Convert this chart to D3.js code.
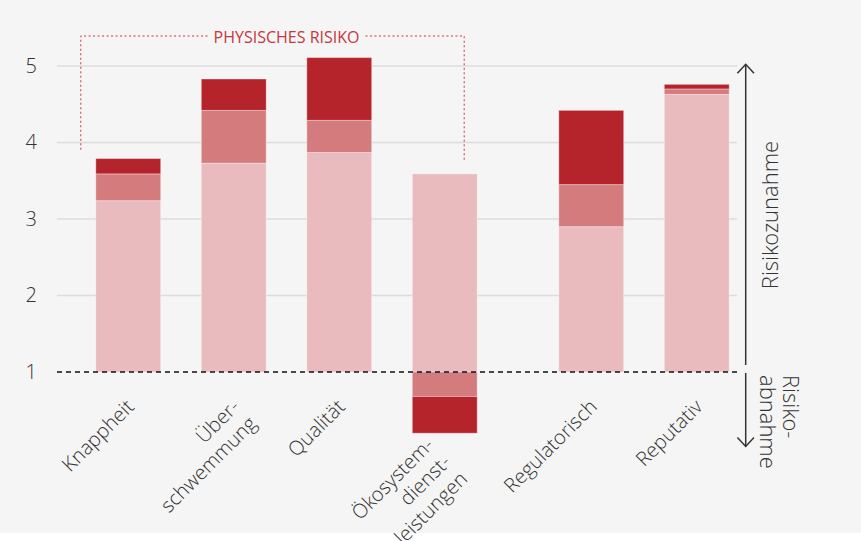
<!DOCTYPE html>
<html><head><meta charset="utf-8">
<script src="https://cdn.jsdelivr.net/npm/d3@7"></script>
<style>
html,body{margin:0;padding:0;background:#fff;}
svg text{font-family:"Open Sans Light","Open Sans",sans-serif;}
</style></head>
<body><svg id="chart" width="861" height="541"></svg>
<script>
// Water risk categories (label lines for the rotated axis text)
const categories = ["Knappheit", "Überschwemmung", "Qualität", "Ökosystemdienstleistungen", "Regulatorisch", "Reputativ"];
const categoryLines = [["Knappheit"], ["Über-", "schwemmung"], ["Qualität"], ["Ökosystem-", "dienst-", "leistungen"], ["Regulatorisch"], ["Reputativ"]];
const categoryGroup = ["physisch", "physisch", "physisch", "physisch", "andere", "andere"];

// Segment sizes relative to the neutral level 1 (negative = risk reduction)
const lightValues  = [2.24, 2.73, 2.87, 2.59, 1.90, 3.63];
const mediumValues = [0.35, 0.69, 0.42, -0.32, 0.55, 0.07];
const darkValues   = [0.20, 0.41, 0.82, -0.48, 0.97, 0.06];

const yTicks = [1, 2, 3, 4, 5];
const neutralLevel = 1;
const bracketLabel = "PHYSISCHES RISIKO";
const upLabel = "Risikozunahme";
const downLabel = ["Risiko-", "abnahme"];

const W = 861, H = 541;
const colors = { light: "#e9bbbe", medium: "#d47b7e", dark: "#b5242b" };
const textColor = "#333";
const accent = "#c8363e";
const fontStack = '"Open Sans Light","Open Sans",sans-serif';

const svg = d3.select("#chart");
svg.append("rect").attr("width", W).attr("height", 533).attr("fill", "#f5f5f5");

// Scales
const y = d3.scaleLinear().domain([1, 5]).range([372, 66]);
const x = d3.scaleBand().domain(categories)
  .range([75.5, 75.5 + 6 * 105.5]).paddingInner(0.385).paddingOuter(0.1925);
const groupGap = 41;
const bw = x.bandwidth();
const xLeft = (c) => x(c) + (categoryGroup[categories.indexOf(c)] === "andere" ? groupGap : 0);
const xCenter = (c) => xLeft(c) + bw / 2;

const gridLeft = 57, gridRight = 737;

// Gridlines
svg.append("g").selectAll("line").data(yTicks.filter(t => t !== neutralLevel)).join("line")
  .attr("x1", gridLeft).attr("x2", gridRight)
  .attr("y1", d => y(d)).attr("y2", d => y(d))
  .attr("stroke", "#dcdcdc").attr("stroke-width", 1.3);

// Y axis labels
const yAxis = svg.append("g").attr("transform", `translate(${gridLeft},0)`)
  .call(d3.axisLeft(y).tickValues(yTicks).tickFormat(d3.format("d")).tickSize(0).tickPadding(20));
yAxis.select(".domain").remove();
yAxis.selectAll("text").attr("font-size", 20).attr("font-weight", 300)
  .attr("fill", textColor).style("font-family", fontStack);

// Stacked bars, diverging around the neutral level
const rows = categories.map((c, i) => ({ cat: c, light: lightValues[i], medium: mediumValues[i], dark: darkValues[i] }));
const stacked = d3.stack().keys(["light", "medium", "dark"]).offset(d3.stackOffsetDiverging)(rows);

svg.append("g").selectAll("g").data(stacked).join("g")
  .attr("fill", s => colors[s.key])
  .selectAll("rect").data(s => s).join("rect")
  .attr("x", d => xLeft(d.data.cat))
  .attr("width", bw)
  .attr("y", d => y(neutralLevel + Math.max(d[0], d[1])))
  .attr("height", d => Math.abs(y(neutralLevel + d[0]) - y(neutralLevel + d[1])))
  .attr("stroke", "rgba(255,255,255,0.35)").attr("stroke-width", 1);

// Neutral level dashed line
svg.append("line").attr("x1", gridLeft).attr("x2", gridRight + 1)
  .attr("y1", y(neutralLevel)).attr("y2", y(neutralLevel))
  .attr("stroke", "#111").attr("stroke-width", 1.4).attr("stroke-dasharray", "5,4");

// Category labels, rotated
const lowest = (i) => d3.min(stacked, s => Math.min(s[i][0], s[i][1]));
const labels = svg.append("g").selectAll("text").data(categories).join("text")
  .attr("transform", (c, i) => {
    const low = lowest(i);
    if (low < 0) return `translate(${xCenter(c) - 10},${y(neutralLevel + low) + 13}) rotate(-45)`;
    return `translate(${xCenter(c) + 7},${y(neutralLevel) + 36}) rotate(-45)`;
  })
  .attr("text-anchor", "end").attr("font-size", 20).attr("font-weight", 300).attr("fill", textColor);
labels.selectAll("tspan").data((c, i) => categoryLines[i]).join("tspan")
  .attr("x", 0).attr("dy", (d, j) => j === 0 ? 0 : "1.2em").text(d => d);

// Bracket over the physical risk group
const physCats = categories.filter((c, i) => categoryGroup[i] === "physisch");
const firstP = physCats[0], lastP = physCats[physCats.length - 1];
const iFirst = categories.indexOf(firstP), iLast = categories.indexOf(lastP);
const topOf = (i) => d3.max(stacked, s => Math.max(s[i][0], s[i][1]));
const bx1 = xLeft(firstP) - 15, bx2 = xLeft(lastP) + bw - 13;
const by = 36;
const bMid = (xCenter(firstP) + xCenter(lastP)) / 2;
const bText = svg.append("text").attr("x", bMid).attr("y", by + 6.5)
  .attr("text-anchor", "middle").attr("font-size", 16).attr("fill", accent)
  .style("font-family", '"Open Sans",sans-serif').text(bracketLabel);
const tw = bText.node().getComputedTextLength();
const bracketPath = d3.path();
bracketPath.moveTo(bMid - tw / 2 - 6, by); bracketPath.lineTo(bx1, by); bracketPath.lineTo(bx1, y(neutralLevel + topOf(iFirst)) - 8);
bracketPath.moveTo(bMid + tw / 2 + 6, by); bracketPath.lineTo(bx2, by); bracketPath.lineTo(bx2, y(neutralLevel + topOf(iLast)) - 13);
svg.append("path").attr("d", bracketPath.toString()).attr("fill", "none")
  .attr("stroke", accent).attr("stroke-width", 1).attr("stroke-dasharray", "2,2.5");

// Direction arrows
const ax = 745.7;
const arrowG = svg.append("g").attr("stroke", "#333").attr("stroke-width", 1.5).attr("fill", "none");
const upTip = y(5) - 1.7, downTip = y(0) - 2;
arrowG.append("line").attr("x1", ax).attr("x2", ax).attr("y1", y(neutralLevel) - 7).attr("y2", upTip);
arrowG.append("path").attr("d", `M${ax - 8.3},${upTip + 9}L${ax},${upTip}L${ax + 8.3},${upTip + 9}`);
arrowG.append("line").attr("x1", ax).attr("x2", ax).attr("y1", y(neutralLevel) + 1).attr("y2", downTip);
arrowG.append("path").attr("d", `M${ax - 8.3},${downTip - 9}L${ax},${downTip}L${ax + 8.3},${downTip - 9}`);

svg.append("text").attr("transform", `translate(778,215) rotate(-90)`)
  .attr("text-anchor", "middle").attr("font-size", 22).attr("font-weight", 300).attr("fill", textColor).text(upLabel);
svg.append("text").attr("transform", `translate(783,375) rotate(90)`)
  .attr("font-size", 22).attr("font-weight", 300).attr("fill", textColor)
  .selectAll("tspan").data(downLabel).join("tspan")
  .attr("x", 0).attr("dy", (d, j) => j === 0 ? 0 : "1.06em").text(d => d);
</script>
</body></html>
